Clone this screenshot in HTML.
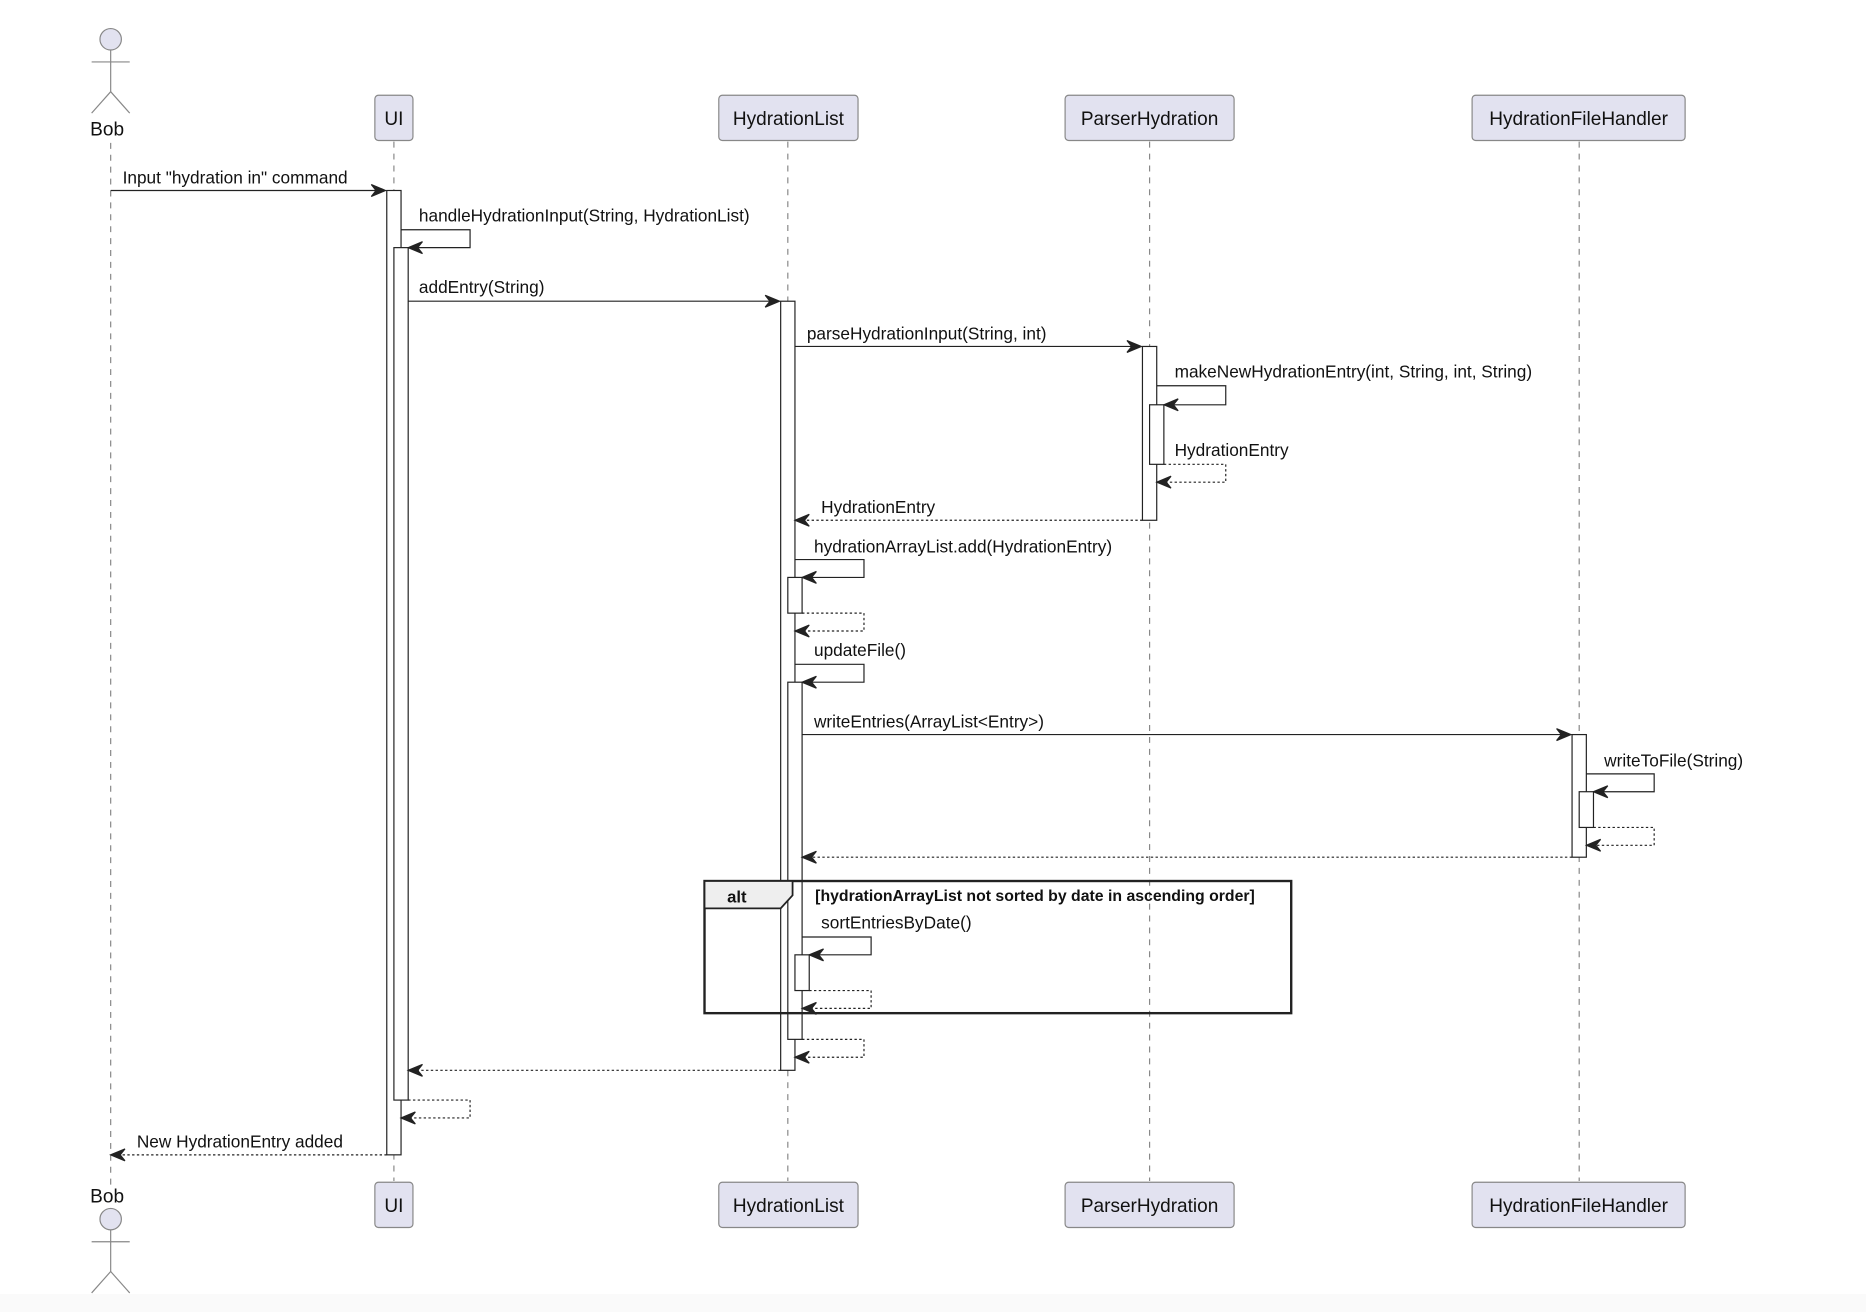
<!DOCTYPE html>
<html><head><meta charset="utf-8"><style>
html,body{margin:0;padding:0;background:#fff;}
svg{display:block;}
text{font-family:"Liberation Sans",Arial,sans-serif;font-size:14.5px;fill:#111;}
.ll{stroke:#888;stroke-width:1;stroke-dasharray:5,5;fill:none;}
.pb{fill:#e2e2f0;stroke:#888;stroke-width:1;}
.act{fill:#fff;stroke:#222;stroke-width:1;}
.m{stroke:#222;stroke-width:1;fill:none;}
.r{stroke:#222;stroke-width:1;fill:none;stroke-dasharray:2,2;}
.ah{fill:#222;stroke:#222;stroke-width:1;}
.pt{font-size:16px;text-anchor:middle;}
</style></head><body>
<svg width="1866" height="1312" viewBox="0 0 1568 1102" preserveAspectRatio="none" xmlns="http://www.w3.org/2000/svg">
<rect x="0" y="1087" width="1568" height="15" fill="#fafafa"/>
<!-- lifelines -->
<line class="ll" x1="93" y1="120" x2="93" y2="1000"/>
<line class="ll" x1="331" y1="119" x2="331" y2="992"/>
<line class="ll" x1="662" y1="119" x2="662" y2="992"/>
<line class="ll" x1="966" y1="119" x2="966" y2="992"/>
<line class="ll" x1="1327" y1="119" x2="1327" y2="992"/>
<!-- actors -->
<g stroke="#888" stroke-width="1" fill="none">
<circle cx="93" cy="33" r="9" fill="#e2e2f0"/>
<line x1="93" y1="42" x2="93" y2="77"/><line x1="77" y1="52" x2="109" y2="52"/>
<line x1="93" y1="77" x2="77" y2="95"/><line x1="93" y1="77" x2="109" y2="95"/>
<circle cx="93" cy="1024" r="9" fill="#e2e2f0"/>
<line x1="93" y1="1033" x2="93" y2="1068"/><line x1="77" y1="1043" x2="109" y2="1043"/>
<line x1="93" y1="1068" x2="77" y2="1086"/><line x1="93" y1="1068" x2="109" y2="1086"/>
</g>
<text class="pt" x="90" y="114">Bob</text>
<text class="pt" x="90" y="1010">Bob</text>
<!-- participant boxes -->
<g>
<rect class="pb" x="315" y="80" width="32" height="38" rx="3"/><text class="pt" x="331" y="105">UI</text>
<rect class="pb" x="604" y="80" width="117" height="38" rx="3"/><text class="pt" x="662.5" y="105">HydrationList</text>
<rect class="pb" x="895" y="80" width="142" height="38" rx="3"/><text class="pt" x="966" y="105">ParserHydration</text>
<rect class="pb" x="1237" y="80" width="179" height="38" rx="3"/><text class="pt" x="1326.5" y="105">HydrationFileHandler</text>
<rect class="pb" x="315" y="993" width="32" height="38" rx="3"/><text class="pt" x="331" y="1018">UI</text>
<rect class="pb" x="604" y="993" width="117" height="38" rx="3"/><text class="pt" x="662.5" y="1018">HydrationList</text>
<rect class="pb" x="895" y="993" width="142" height="38" rx="3"/><text class="pt" x="966" y="1018">ParserHydration</text>
<rect class="pb" x="1237" y="993" width="179" height="38" rx="3"/><text class="pt" x="1326.5" y="1018">HydrationFileHandler</text>
</g>
<!-- activations -->
<rect class="act" x="325" y="160" width="12" height="810"/>
<rect class="act" x="331" y="208" width="12" height="716"/>
<rect class="act" x="656" y="253" width="12" height="646"/>
<rect class="act" x="960" y="291" width="12" height="146"/>
<rect class="act" x="966" y="340" width="12" height="50"/>
<rect class="act" x="662" y="485" width="12" height="30"/>
<rect class="act" x="662" y="573" width="12" height="300"/>
<rect class="act" x="1321" y="617" width="12" height="103"/>
<rect class="act" x="1327" y="665" width="12" height="30"/>
<!-- alt frame -->
<rect x="592" y="740" width="493" height="111" fill="none" stroke="#222" stroke-width="2"/>
<path d="M592 740 H666 V752 L656 763 H592 Z" fill="#eee" stroke="#222" stroke-width="1.5"/>
<text x="611" y="758" style="font-weight:bold;font-size:14px">alt</text>
<text x="685" y="757" style="font-weight:bold;font-size:13.3px">[hydrationArrayList not sorted by date in ascending order]</text>
<rect class="act" x="668" y="802" width="12" height="30"/>
<!-- messages -->
<line class="m" x1="93" y1="160" x2="323" y2="160"/>
<text x="103" y="154">Input "hydration in" command</text>

<polyline class="m" points="337,193 395,193 395,208 345,208"/>
<text x="352" y="186">handleHydrationInput(String, HydrationList)</text>

<line class="m" x1="343" y1="253" x2="654" y2="253"/>
<text x="352" y="246">addEntry(String)</text>

<line class="m" x1="668" y1="291" x2="958" y2="291"/>
<text x="678" y="285">parseHydrationInput(String, int)</text>

<polyline class="m" points="972,324 1030,324 1030,340 980,340"/>
<text x="987" y="317">makeNewHydrationEntry(int, String, int, String)</text>

<polyline class="r" points="978,390 1030,390 1030,405 974,405"/>
<text x="987" y="383">HydrationEntry</text>

<line class="r" x1="960" y1="437" x2="670" y2="437"/>
<text x="690" y="431">HydrationEntry</text>

<polyline class="m" points="668,470 726,470 726,485 676,485"/>
<text x="684" y="464">hydrationArrayList.add(HydrationEntry)</text>
<polyline class="r" points="674,515 726,515 726,530 670,530"/>

<polyline class="m" points="668,558 726,558 726,573 676,573"/>
<text x="684" y="551">updateFile()</text>

<line class="m" x1="674" y1="617" x2="1319" y2="617"/>
<text x="684" y="611">writeEntries(ArrayList&lt;Entry&gt;)</text>

<polyline class="m" points="1333,650 1390,650 1390,665 1341,665"/>
<text x="1348" y="644">writeToFile(String)</text>
<polyline class="r" points="1339,695 1390,695 1390,710 1335,710"/>

<line class="r" x1="1321" y1="720" x2="676" y2="720"/>

<polyline class="m" points="674,787 732,787 732,802 682,802"/>
<text x="690" y="780">sortEntriesByDate()</text>
<polyline class="r" points="680,832 732,832 732,847 676,847"/>

<polyline class="r" points="674,873 726,873 726,888 670,888"/>
<line class="r" x1="656" y1="899" x2="345" y2="899"/>
<polyline class="r" points="343,924 395,924 395,939 339,939"/>
<line class="r" x1="325" y1="970" x2="95" y2="970"/>
<text x="115" y="964">New HydrationEntry added</text>

<!-- arrowheads -->
<g class="ah">
<path d="M324 160 l-12 -5 l4 5 l-4 5 z"/>
<path d="M343 208 l12 -5 l-4 5 l4 5 z"/>
<path d="M655 253 l-12 -5 l4 5 l-4 5 z"/>
<path d="M959 291 l-12 -5 l4 5 l-4 5 z"/>
<path d="M978 340 l12 -5 l-4 5 l4 5 z"/>
<path d="M972 405 l12 -5 l-4 5 l4 5 z"/>
<path d="M668 437 l12 -5 l-4 5 l4 5 z"/>
<path d="M674 485 l12 -5 l-4 5 l4 5 z"/>
<path d="M668 530 l12 -5 l-4 5 l4 5 z"/>
<path d="M674 573 l12 -5 l-4 5 l4 5 z"/>
<path d="M1320 617 l-12 -5 l4 5 l-4 5 z"/>
<path d="M1339 665 l12 -5 l-4 5 l4 5 z"/>
<path d="M1333 710 l12 -5 l-4 5 l4 5 z"/>
<path d="M674 720 l12 -5 l-4 5 l4 5 z"/>
<path d="M680 802 l12 -5 l-4 5 l4 5 z"/>
<path d="M674 847 l12 -5 l-4 5 l4 5 z"/>
<path d="M668 888 l12 -5 l-4 5 l4 5 z"/>
<path d="M343 899 l12 -5 l-4 5 l4 5 z"/>
<path d="M337 939 l12 -5 l-4 5 l4 5 z"/>
<path d="M93 970 l12 -5 l-4 5 l4 5 z"/>
</g>
</svg>
</body></html>
